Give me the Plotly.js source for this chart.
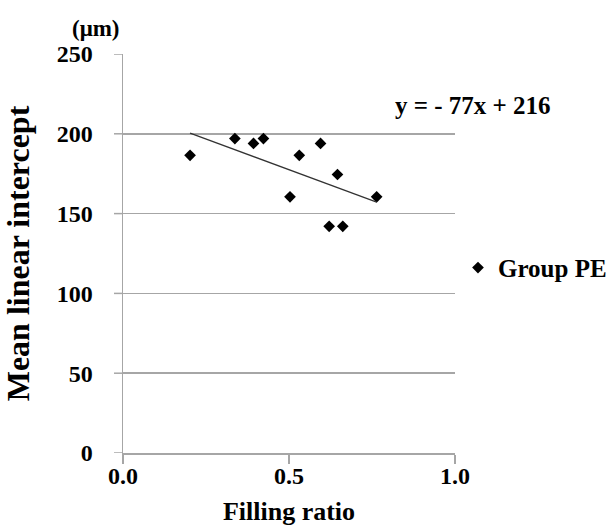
<!DOCTYPE html>
<html>
<head>
<meta charset="utf-8">
<script src="https://cdn.plot.ly/plotly-3.0.1.min.js"></script>
<style>
html,body{margin:0;padding:0;background:#fff;}
#chart{width:611px;height:526px;}
#chart svg text{font-family:"Liberation Serif","Times New Roman",Times,serif !important;}
</style>
</head>
<body>
<div id="chart"></div>
<script>
var fillingRatio = [0.202, 0.337, 0.393, 0.423, 0.503, 0.531, 0.595, 0.621, 0.646, 0.662, 0.764];
var meanIntercept = [186.5, 197, 194, 197, 160.5, 186.5, 194, 142, 174.5, 142, 160.5];
var slope = -77;
var intercept = 216;
var seriesName = "Group PE";
var xTicks = [0, 0.5, 1.0];
var xTickLabels = ["0.0", "0.5", "1.0"];
var yTicks = [0, 50, 100, 150, 200, 250];

var xMin = Math.min.apply(null, fillingRatio);
var xMax = Math.max.apply(null, fillingRatio);
var trendX = [xMin, xMax];
var trendY = trendX.map(function (x) { return slope * x + intercept; });

var serif = '"Liberation Serif", "Times New Roman", Times, serif';
var axisGray = "#a6a6a6";
var data = [
  {
    x: fillingRatio, y: meanIntercept, type: "scatter", mode: "markers", name: seriesName,
    marker: { symbol: "diamond", size: 9, color: "#000000" }
  },
  {
    x: trendX, y: trendY, type: "scatter", mode: "lines", showlegend: false,
    line: { color: "#333333", width: 1.2 }, hoverinfo: "skip"
  }
];

// visible short y tick marks (labels are pushed out by longer transparent ticks)
var yTickShapes = yTicks.map(function (v) {
  return { type: "line", xref: "paper", yref: "y", x0: -9 / 332, x1: 0, y0: v, y1: v,
           line: { color: axisGray, width: 1.5 } };
});

var layout = {
  width: 611, height: 526,
  margin: { l: 123, r: 156, t: 54, b: 73, autoexpand: false },
  paper_bgcolor: "#ffffff", plot_bgcolor: "#ffffff",
  font: { family: serif, size: 24, color: "#000000", weight: "bold" },
  xaxis: {
    range: [0, 1], tickvals: xTicks, ticktext: xTickLabels,
    showgrid: false, zeroline: false, showline: true, linecolor: axisGray, linewidth: 1.5,
    ticks: "outside", ticklen: 9, tickcolor: axisGray, tickwidth: 1.5,
    ticklabelstandoff: -8,
    tickfont: { family: serif, size: 24, weight: "bold", color: "#000000" },
    title: { text: "Filling ratio", font: { family: serif, size: 26, weight: "bold", color: "#000000" }, standoff: 13 }
  },
  yaxis: {
    range: [0, 250], tickvals: yTicks,
    showgrid: true, gridcolor: axisGray, gridwidth: 1.5, zeroline: false,
    showline: true, linecolor: axisGray, linewidth: 1.5,
    ticks: "outside", ticklen: 24, tickcolor: "rgba(0,0,0,0)", tickwidth: 1.5,
    tickfont: { family: serif, size: 24, weight: "bold", color: "#000000" },
    title: { text: "Mean linear intercept", font: { family: serif, size: 32, weight: "bold", color: "#000000" }, standoff: 17 }
  },
  shapes: yTickShapes,
  showlegend: true,
  legend: {
    x: 1.009, y: 0.464, xanchor: "left", yanchor: "middle", itemwidth: 30,
    font: { family: serif, size: 25, weight: "bold", color: "#000000" }, bgcolor: "rgba(0,0,0,0)"
  },
  annotations: [
    {
      xref: "paper", yref: "paper", x: 1.053, y: 0.872, xanchor: "center", yanchor: "middle",
      text: "y = - 77x + 216", showarrow: false,
      font: { family: serif, size: 25, weight: "bold", color: "#000000" }
    },
    {
      xref: "paper", yref: "paper", x: -0.081, y: 1.0627, xanchor: "center", yanchor: "middle",
      text: "(μm)", showarrow: false,
      font: { family: serif, size: 23, weight: "bold", color: "#000000" }
    }
  ]
};

Plotly.newPlot("chart", data, layout, { displayModeBar: false, staticPlot: true });
</script>
</body>
</html>
